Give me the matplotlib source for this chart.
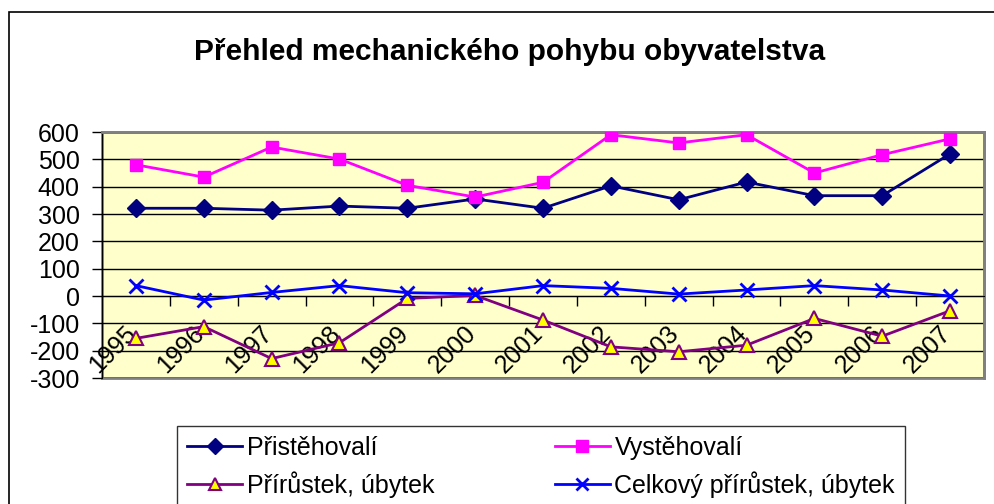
import matplotlib
matplotlib.use("Agg")
import matplotlib.pyplot as plt
from matplotlib.patches import Rectangle

plt.rcParams['font.family'] = ['Liberation Sans', 'DejaVu Sans']

years = ['1995', '1996', '1997', '1998', '1999', '2000', '2001',
         '2002', '2003', '2004', '2005', '2006', '2007']
pristehovali = [321, 321, 314, 329, 321, 355, 321, 403, 352, 417, 367, 367, 520]
vystehovali = [480, 435, 545, 501, 405, 362, 416, 590, 560, 590, 450, 517, 575]
prirustek = [-155, -112, -229, -171, -9, 2, -88, -186, -204, -180, -82, -147, -54]
celkovy = [38, -15, 13, 38, 12, 8, 38, 28, 7, 22, 38, 22, 0]
yticks = [-300, -200, -100, 0, 100, 200, 300, 400, 500, 600]
title = 'Přehled mechanického pohybu obyvatelstva'
labels = ['Přistěhovalí', 'Vystěhovalí', 'Přírůstek, úbytek', 'Celkový přírůstek, úbytek']

W, H = 994, 504
fig = plt.figure(figsize=(W / 100, H / 100), dpi=100)
fig.patch.set_facecolor('white')

# outer chart border
fig.patches.append(Rectangle((8.5 / W, -0.1), 1.2, 1 - 12 / H + 0.1,
                             transform=fig.transFigure, fill=False,
                             edgecolor='black', linewidth=1.2, zorder=0))

L, R, T, B = 102, 984, 132, 378
ax = fig.add_axes([L / W, 1 - B / H, (R - L) / W, (B - T) / H])
ax.set_facecolor('#FFFFCC')

x = list(range(len(years)))
l1, = ax.plot(x, pristehovali, color='#000080', lw=2, marker='D', ms=9,
              mfc='#000080', mec='#000080', label=labels[0], zorder=4)
l2, = ax.plot(x, vystehovali, color='#FF00FF', lw=2, marker='s', ms=9,
              mfc='#FF00FF', mec='#FF00FF', label=labels[1], zorder=4)
l3, = ax.plot(x, prirustek, color='#800080', lw=2, marker='^', ms=10,
              mfc='#FFFF00', mec='#800080', mew=1.5, label=labels[2], zorder=4)
l4, = ax.plot(x, celkovy, color='#0000FF', lw=2, marker='x', ms=10,
              mec='#0000FF', mew=2, label=labels[3], zorder=4)

ax.set_xlim(-0.5, len(years) - 0.5)
ax.set_ylim(-300, 600)
ax.set_yticks(yticks)
ax.set_yticklabels([str(v) for v in yticks], fontsize=18)
ax.tick_params(axis='y', length=7, width=1, pad=9, direction='out')
ax.yaxis.grid(True, color='black', lw=1, zorder=1)
ax.set_axisbelow(True)

# x axis at zero with category boundary ticks
ax.spines['bottom'].set_position(('data', 0))
ax.spines['bottom'].set_color('black')
ax.set_xticks([i + 0.5 for i in range(len(years) - 1)])
ax.set_xticklabels([])
ax.tick_params(axis='x', length=7, width=1, direction='out')
for i, yr in enumerate(years):
    ax.annotate(yr, xy=(i, 0), xycoords='data', xytext=(-8.5, -18),
                textcoords='offset points', rotation=45, ha='right', va='top',
                rotation_mode='anchor', fontsize=18)

for s in ['top', 'right']:
    ax.spines[s].set_color('#808080')
    ax.spines[s].set_linewidth(2)
ax.spines['left'].set_color('black')
ax.add_patch(Rectangle((0, 0), 1, 1, transform=ax.transAxes, fill=False,
                       edgecolor='#808080', lw=2, zorder=0.5, clip_on=False))

fig.text(509.5 / W, 1 - 52 / H, title, ha='center', va='center',
         fontsize=21.5, fontweight='bold')

handles = [l1, l3, l2, l4]
leg = fig.legend(handles, [h.get_label() for h in handles],
                 loc='upper left', bbox_to_anchor=(177 / W, 1 - 426 / H),
                 ncol=2, fontsize=18, frameon=True, fancybox=False,
                 edgecolor='black', handlelength=2.2, handletextpad=0.2,
                 columnspacing=4.8, borderpad=0.4, labelspacing=0.45,
                 borderaxespad=0)
leg.get_frame().set_linewidth(1)
for h in leg.legend_handles:
    h.set_markersize(8)

fig.savefig('out.png', dpi=100)
